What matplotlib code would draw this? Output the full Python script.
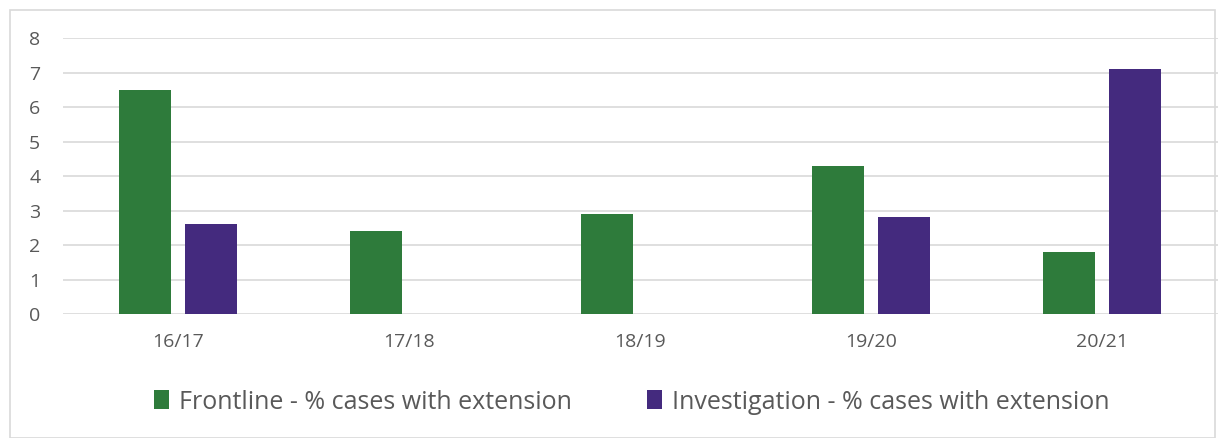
import matplotlib
matplotlib.use("Agg")
import matplotlib.pyplot as plt
import numpy as np
from matplotlib.patches import Rectangle

years = ["16/17", "17/18", "18/19", "19/20", "20/21"]
frontline = [6.5, 2.4, 2.9, 4.3, 1.8]
investigation = [2.6, np.nan, np.nan, 2.8, 7.1]
labels = ["Frontline - % cases with extension", "Investigation - % cases with extension"]
colors = ["#2E7B3B", "#442A7E"]

plt.rcParams["font.family"] = ["Open Sans", "DejaVu Sans"]

fig = plt.figure(figsize=(12.25, 4.38), dpi=100)
ax = fig.add_axes([62.5 / 1225, 0.283, 1155 / 1225, 0.630])

x = np.arange(len(years))
w = 0.225
off = 0.143
ax.bar(x - off, frontline, w, color=colors[0], label=labels[0], zorder=3)
ax.bar(x + off, investigation, w, color=colors[1], label=labels[1], zorder=3)

ax.set_xlim(-0.5, len(years) - 0.5)
ax.set_ylim(0, 8)
ax.set_yticks(range(0, 9))
ax.set_xticks(x)
ax.set_xticklabels(years)
ax.grid(axis="y", color="#D9D9D9", linewidth=1.2, zorder=0)
for s in ax.spines.values():
    s.set_visible(False)
ax.tick_params(length=0, labelsize=14, colors="#595959")
ax.tick_params(axis="x", pad=14)
ax.tick_params(axis="y", pad=16)

fig.legend(loc="center", bbox_to_anchor=(0.516, 0.082), ncol=2, frameon=False,
           fontsize=18, labelcolor="#595959", handlelength=0.6, handleheight=0.8,
           handletextpad=0.4, columnspacing=3.0)

fig.patches.append(Rectangle((10 / 1225, 0), 1205 / 1225, 428 / 438, transform=fig.transFigure,
                             fill=False, edgecolor="#D9D9D9", linewidth=1.2))

fig.savefig("out.png", dpi=100)
